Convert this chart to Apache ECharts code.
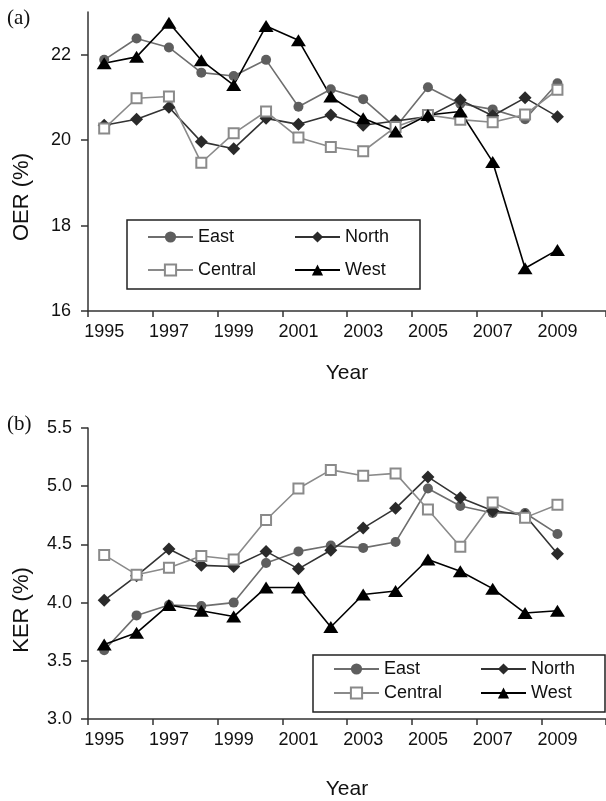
<!DOCTYPE html>
<html>
<head>
<meta charset="utf-8">
<script src="https://cdn.jsdelivr.net/npm/echarts@6/dist/echarts.min.js"></script>
<style>html,body{margin:0;padding:0;background:#fff;}#c{width:606px;height:801px;}</style>
</head>
<body>
<div id="c"></div>
<script>
// Categories (2010 is an empty trailing slot on the axis)
const years = ['1995','1996','1997','1998','1999','2000','2001','2002','2003','2004','2005','2006','2007','2008','2009','2010'];
const seriesNames = ['East','North','Central','West'];

// (a) OER (%)
const oerEast    = [21.88, 22.38, 22.17, 21.58, 21.50, 21.88, 20.78, 21.19, 20.96, 20.30, 21.24, 20.85, 20.72, 20.49, 21.33];
const oerNorth   = [20.35, 20.49, 20.77, 19.96, 19.80, 20.51, 20.37, 20.59, 20.35, 20.45, 20.55, 20.94, 20.57, 20.99, 20.55];
const oerCentral = [20.27, 20.98, 21.02, 19.47, 20.16, 20.67, 20.06, 19.84, 19.74, 20.31, 20.59, 20.48, 20.42, 20.60, 21.18];
const oerWest    = [21.80, 21.95, 22.75, 21.87, 21.29, 22.67, 22.34, 21.02, 20.51, 20.20, 20.59, 20.67, 19.49, 17.00, 17.43];

// (b) KER (%)
const kerEast    = [3.59, 3.89, 3.98, 3.97, 4.00, 4.34, 4.44, 4.49, 4.47, 4.52, 4.98, 4.83, 4.77, 4.77, 4.59];
const kerNorth   = [4.02, 4.23, 4.46, 4.32, 4.31, 4.44, 4.29, 4.45, 4.64, 4.81, 5.08, 4.90, 4.79, 4.75, 4.42];
const kerCentral = [4.41, 4.24, 4.30, 4.40, 4.37, 4.71, 4.98, 5.14, 5.09, 5.11, 4.80, 4.48, 4.86, 4.73, 4.84];
const kerWest    = [3.64, 3.74, 3.98, 3.93, 3.88, 4.13, 4.13, 3.79, 4.07, 4.10, 4.37, 4.27, 4.12, 3.91, 3.93];

const oerTicks = [16, 18, 20, 22];
const kerTicks = [3.0, 3.5, 4.0, 4.5, 5.0, 5.5];

const FONT = '"Liberation Sans", Arial, sans-serif';
const AXC = '#333';

const styles = {
  East:    {symbol: 'circle',   symbolSize: 10,      color: '#5e5e5e', line: '#6e6e6e'},
  North:   {symbol: 'diamond',  symbolSize: 13,      color: '#2a2a2a', line: '#333333'},
  Central: {symbol: 'emptyRect',symbolSize: 10,      color: '#8a8a8a', line: '#8a8a8a'},
  West:    {symbol: 'triangle', symbolSize: [15, 12],color: '#000000', line: '#000000'}
};

function mkSeries(name, data, idx) {
  const s = styles[name];
  return {
    name: name, type: 'line', xAxisIndex: idx, yAxisIndex: idx, data: data,
    symbol: s.symbol, symbolSize: s.symbolSize, showAllSymbol: true,
    lineStyle: {color: s.line, width: 1.6},
    itemStyle: {color: s.color, borderColor: s.color, borderWidth: name === 'Central' ? 1.6 : 0},
    emphasis: {disabled: true}, animation: false
  };
}

function xAx(idx) {
  return {
    type: 'category', gridIndex: idx, data: years, boundaryGap: true,
    axisLine: {lineStyle: {color: AXC, width: 1.5}},
    axisTick: {show: true, interval: 1, length: 6, inside: false, lineStyle: {color: AXC, width: 1.5}},
    axisLabel: {interval: 1, color: '#111', fontFamily: FONT, fontSize: 18, margin: 12},
    name: 'Year', nameLocation: 'middle', nameGap: idx === 0 ? 52 : 60,
    nameTextStyle: {color: '#111', fontFamily: FONT, fontSize: 21},
    splitLine: {show: false}
  };
}

function legendCol(left, top, gap, data) {
  return {
    orient: 'vertical', left: left, top: top, itemGap: gap, itemWidth: 45, itemHeight: 14,
    data: data, selectedMode: false, padding: 0,
    textStyle: {color: '#111', fontFamily: FONT, fontSize: 18, lineHeight: 18, padding: [0,0,0,0]}
  };
}

const option = {
  backgroundColor: '#fff',
  animation: false,
  grid: [
    {left: 88, right: 0, top: 12, height: 299},
    {left: 88, right: 0, top: 428, height: 299}
  ],
  xAxis: [xAx(0), xAx(1)],
  yAxis: [
    {
      type: 'value', gridIndex: 0, min: 16, max: 23, interval: 2,
      axisLine: {show: true, lineStyle: {color: AXC, width: 1.5}},
      axisTick: {show: true, length: 7, customValues: oerTicks, lineStyle: {color: AXC, width: 1.5}},
      axisLabel: {customValues: oerTicks, color: '#111', fontFamily: FONT, fontSize: 18, margin: 17},
      splitLine: {show: false}
    },
    {
      type: 'value', gridIndex: 1, min: 3, max: 5.5, interval: 0.5,
      axisLine: {show: true, lineStyle: {color: AXC, width: 1.5}},
      axisTick: {show: true, length: 7, customValues: kerTicks, lineStyle: {color: AXC, width: 1.5}},
      axisLabel: {customValues: kerTicks, color: '#111', fontFamily: FONT, fontSize: 18, margin: 16,
                  formatter: v => Number(v).toFixed(1)},
      splitLine: {show: false}
    }
  ],
  legend: [
    legendCol(147, 228, 15, ['East', 'Central']),
    legendCol(294, 228, 15, ['North', 'West']),
    legendCol(333, 660, 6, ['East', 'Central']),
    legendCol(480, 660, 6, ['North', 'West'])
  ],
  graphic: [
    {type: 'rect', z: 1, shape: {x: 127, y: 220, width: 293, height: 69},
     style: {fill: '#fff', stroke: '#222', lineWidth: 1.5}},
    {type: 'rect', z: 1, shape: {x: 313, y: 655, width: 292, height: 57},
     style: {fill: '#fff', stroke: '#222', lineWidth: 1.5}},
    {type: 'text', x: 7, y: 8, style: {text: '(a)', font: '21px "Liberation Serif", serif', fill: '#111'}},
    {type: 'text', x: 7, y: 414, style: {text: '(b)', font: '21px "Liberation Serif", serif', fill: '#111'}},
    {type: 'text', x: 22, y: 197, rotation: Math.PI / 2,
     style: {text: 'OER (%)', font: '22px "Liberation Sans", Arial, sans-serif', fill: '#111', align: 'center', verticalAlign: 'middle'}},
    {type: 'text', x: 22, y: 610, rotation: Math.PI / 2,
     style: {text: 'KER (%)', font: '22px "Liberation Sans", Arial, sans-serif', fill: '#111', align: 'center', verticalAlign: 'middle'}}
  ],
  series: [
    mkSeries('East', oerEast, 0),
    mkSeries('North', oerNorth, 0),
    mkSeries('Central', oerCentral, 0),
    mkSeries('West', oerWest, 0),
    mkSeries('East', kerEast, 1),
    mkSeries('North', kerNorth, 1),
    mkSeries('Central', kerCentral, 1),
    mkSeries('West', kerWest, 1)
  ]
};

const chart = echarts.init(document.getElementById('c'), null, {renderer: 'canvas'});
chart.setOption(option);
</script>
</body>
</html>
